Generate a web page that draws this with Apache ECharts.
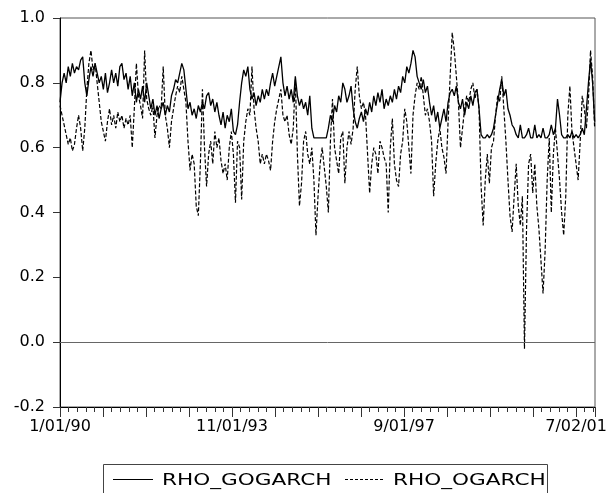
<!DOCTYPE html>
<html>
<head>
<meta charset="utf-8">
<script src="https://cdn.jsdelivr.net/npm/echarts@6/dist/echarts.min.js"></script>
<style>
html,body{margin:0;padding:0;background:#fff;}
#chart{width:610px;height:493px;}
</style>
</head>
<body>
<div id="chart"></div>
<script>
// observation step between stored points (business days)
var obsStep = 12;
var axisMaxObs = 3110;

// x-axis tick labels at observation numbers
var tickObs = [0, 1000, 2000, 3000];
var tickLabels = ['1/01/90', '11/01/93', '9/01/97', '7/02/01'];

var seriesNames = ['RHO_GOGARCH', 'RHO_OGARCH'];

var rhoGogarch = [
  0.74,0.80,0.83,0.80,0.85,0.82,0.86,0.83,0.85,0.84,
  0.87,0.88,0.80,0.76,0.81,0.85,0.82,0.86,0.83,0.80,
  0.82,0.78,0.83,0.77,0.80,0.84,0.80,0.83,0.79,0.85,
  0.86,0.81,0.83,0.78,0.82,0.76,0.80,0.74,0.78,0.75,
  0.79,0.74,0.80,0.76,0.72,0.75,0.70,0.73,0.69,0.72,
  0.74,0.70,0.73,0.71,0.76,0.78,0.81,0.80,0.83,0.86,
  0.84,0.78,0.72,0.74,0.70,0.72,0.69,0.73,0.71,0.74,
  0.72,0.76,0.77,0.73,0.75,0.71,0.74,0.70,0.67,0.71,
  0.66,0.70,0.68,0.72,0.65,0.64,0.67,0.74,0.80,0.84,
  0.82,0.85,0.78,0.75,0.77,0.73,0.76,0.74,0.78,0.75,
  0.78,0.76,0.80,0.83,0.79,0.82,0.85,0.88,0.80,0.76,
  0.79,0.75,0.78,0.74,0.82,0.76,0.73,0.75,0.72,0.74,
  0.70,0.76,0.66,0.63,0.63,0.63,0.63,0.63,0.63,0.63,
  0.66,0.70,0.68,0.73,0.71,0.76,0.74,0.80,0.78,0.74,
  0.76,0.79,0.72,0.68,0.66,0.69,0.71,0.68,0.72,0.70,
  0.74,0.71,0.76,0.73,0.77,0.74,0.78,0.72,0.75,0.73,
  0.76,0.74,0.78,0.75,0.79,0.77,0.82,0.80,0.85,0.83,
  0.86,0.90,0.88,0.82,0.80,0.78,0.81,0.77,0.79,0.74,
  0.70,0.73,0.68,0.71,0.66,0.69,0.72,0.68,0.74,0.77,
  0.78,0.76,0.79,0.74,0.72,0.75,0.70,0.74,0.72,0.76,
  0.73,0.77,0.78,0.72,0.64,0.63,0.63,0.64,0.63,0.64,
  0.66,0.70,0.74,0.78,0.81,0.76,0.78,0.72,0.70,0.67,
  0.66,0.64,0.63,0.67,0.63,0.63,0.64,0.66,0.63,0.63,
  0.67,0.63,0.64,0.63,0.66,0.63,0.63,0.64,0.67,0.64,
  0.66,0.75,0.70,0.64,0.63,0.63,0.64,0.63,0.65,0.63,
  0.64,0.63,0.64,0.66,0.64,0.72,0.80,0.87,0.80,0.68
];

var rhoOgarch = [
  0.73,0.70,0.67,0.64,0.61,0.63,0.59,0.61,0.66,0.70,
  0.66,0.59,0.66,0.78,0.86,0.90,0.84,0.86,0.80,0.74,
  0.68,0.65,0.62,0.68,0.72,0.67,0.70,0.66,0.71,0.68,
  0.70,0.66,0.69,0.67,0.70,0.60,0.72,0.86,0.76,0.73,
  0.69,0.90,0.75,0.72,0.70,0.73,0.63,0.70,0.73,0.72,
  0.85,0.70,0.66,0.60,0.68,0.72,0.76,0.79,0.77,0.82,
  0.78,0.74,0.62,0.53,0.58,0.55,0.42,0.39,0.55,0.78,
  0.60,0.48,0.58,0.62,0.55,0.65,0.60,0.63,0.56,0.52,
  0.55,0.50,0.60,0.65,0.58,0.43,0.62,0.60,0.44,0.62,
  0.68,0.72,0.70,0.85,0.72,0.66,0.62,0.55,0.58,0.55,
  0.58,0.56,0.53,0.62,0.68,0.72,0.75,0.78,0.70,0.68,
  0.70,0.64,0.61,0.66,0.81,0.58,0.42,0.49,0.62,0.65,
  0.58,0.55,0.60,0.50,0.33,0.45,0.55,0.60,0.54,0.48,
  0.40,0.62,0.75,0.60,0.56,0.52,0.63,0.65,0.49,0.60,
  0.65,0.61,0.66,0.78,0.85,0.76,0.72,0.74,0.70,0.58,
  0.46,0.55,0.60,0.58,0.52,0.62,0.60,0.57,0.55,0.40,
  0.60,0.69,0.55,0.50,0.48,0.58,0.62,0.72,0.68,0.60,
  0.52,0.70,0.76,0.80,0.78,0.82,0.76,0.70,0.72,0.68,
  0.62,0.45,0.55,0.62,0.66,0.60,0.57,0.52,0.68,0.82,
  0.955,0.90,0.82,0.74,0.60,0.66,0.72,0.76,0.74,0.78,
  0.80,0.75,0.78,0.72,0.48,0.36,0.50,0.58,0.49,0.60,
  0.62,0.70,0.76,0.74,0.82,0.72,0.62,0.50,0.39,0.34,
  0.45,0.55,0.42,0.36,0.45,-0.02,0.35,0.55,0.58,0.46,
  0.55,0.42,0.35,0.25,0.15,0.28,0.50,0.63,0.40,0.58,
  0.66,0.58,0.50,0.40,0.33,0.45,0.70,0.79,0.65,0.60,
  0.55,0.50,0.62,0.76,0.72,0.66,0.75,0.90,0.82,0.66
];

function toPoints(arr) {
  return arr.map(function (v, i) { return [i * obsStep, v]; });
}

var labelFont = 'DejaVu Sans';
var chart = echarts.init(document.getElementById('chart'), null, {renderer: 'canvas'});

var option = {
  animation: false,
  backgroundColor: '#ffffff',
  grid: {
    left: 60, right: 15, top: 18, bottom: 86,
    show: true, borderColor: '#555', borderWidth: 1, backgroundColor: 'transparent'
  },
  xAxis: {
    type: 'value',
    min: 0,
    max: axisMaxObs,
    interval: 250,
    splitLine: {show: false},
    axisLine: {show: true, onZero: false, lineStyle: {color: '#000', width: 1}},
    axisTick: {show: true, inside: false, length: 10, lineStyle: {color: '#333', width: 1}},
    minorTick: {show: true, splitNumber: 5, length: 5, lineStyle: {color: '#333', width: 1}},
    axisLabel: {
      margin: 12,
      color: '#000',
      fontFamily: labelFont,
      fontSize: 16,
      showMaxLabel: false,
      formatter: function (val) {
        var k = tickObs.indexOf(Math.round(val));
        return k >= 0 ? tickLabels[k] : '';
      }
    }
  },
  yAxis: {
    type: 'value',
    min: -0.2,
    max: 1.0,
    interval: 0.2,
    splitLine: {show: false},
    axisLine: {show: true, onZero: false, lineStyle: {color: '#000', width: 1}},
    axisTick: {show: true, length: 7, lineStyle: {color: '#333', width: 1}},
    axisLabel: {
      margin: 15,
      color: '#000',
      fontFamily: labelFont,
      fontSize: 16,
      formatter: function (v) { return (Math.round(v * 10) / 10).toFixed(1); }
    }
  },
  series: [
    {
      name: seriesNames[0],
      type: 'line',
      data: toPoints(rhoGogarch),
      showSymbol: false,
      symbol: 'none',
      lineStyle: {color: '#000', width: 1.3, type: 'solid'},
      z: 3,
      markLine: {
        silent: true,
        symbol: 'none',
        label: {show: false},
        lineStyle: {color: '#666', width: 1, type: 'solid'},
        data: [{yAxis: 0}]
      }
    },
    {
      name: seriesNames[1],
      type: 'line',
      data: toPoints(rhoOgarch),
      showSymbol: false,
      symbol: 'none',
      lineStyle: {color: '#000', width: 1.2, type: [4, 2]},
      z: 4
    }
  ],
  graphic: [
    {type: 'rect', shape: {x: 103.5, y: 464.5, width: 444, height: 40},
     style: {fill: 'none', stroke: '#444', lineWidth: 1}, z: 10},
    {type: 'line', shape: {x1: 113, y1: 479.5, x2: 153, y2: 479.5},
     style: {stroke: '#000', lineWidth: 1}, z: 10},
    {type: 'text', x: 162, y: 481, scaleX: 1.35,
     style: {text: seriesNames[0], fontFamily: labelFont, fontSize: 16, fill: '#000',
             textVerticalAlign: 'middle', verticalAlign: 'middle'}, z: 10},
    {type: 'line', shape: {x1: 345, y1: 479.5, x2: 385, y2: 479.5},
     style: {stroke: '#000', lineWidth: 1, lineDash: [3, 2]}, z: 10},
    {type: 'text', x: 393, y: 481, scaleX: 1.35,
     style: {text: seriesNames[1], fontFamily: labelFont, fontSize: 16, fill: '#000',
             textVerticalAlign: 'middle', verticalAlign: 'middle'}, z: 10}
  ]
};
chart.setOption(option);
</script>
</body>
</html>
